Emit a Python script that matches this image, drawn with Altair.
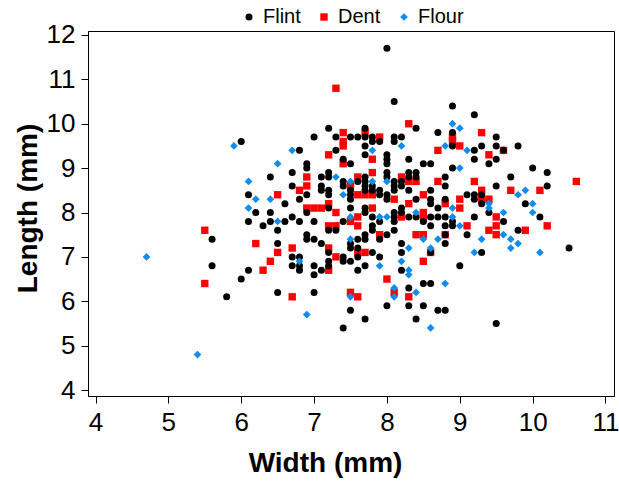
import altair as alt
import pandas as pd

# Flint (black circles)
flint_w = [6.0, 6.1, 6.2, 6.1, 6.3, 5.6, 5.6, 6.1, 6.0, 5.8,
           8.0, 8.1, 8.4, 8.7, 7.2, 7.0, 7.3, 7.5, 7.6, 7.7, 7.7, 7.8, 7.9, 7.8, 8.1, 8.2, 8.1, 7.3, 6.8, 7.7, 7.4, 7.7, 8.0, 8.3,
           8.9, 8.9, 6.9, 6.9, 7.5, 8.0, 8.0, 8.5, 8.6, 6.7, 7.2, 7.2, 7.1, 6.7, 7.1, 7.1, 7.2, 7.2, 6.8, 7.4, 7.4, 7.5, 7.5, 7.5,
           7.6, 7.7, 7.7, 7.7, 7.7, 7.8, 7.8, 7.9, 7.9, 8.0, 8.0, 8.0, 8.0, 8.1, 8.1, 8.1, 8.2, 8.2, 8.3, 8.3, 8.4, 8.4, 8.3, 8.6,
           8.6, 8.6, 8.8, 8.8, 8.9, 9.1, 6.7, 6.8, 7.0, 6.9, 7.2, 7.4, 7.5, 7.7, 7.7, 7.8, 7.8, 7.8, 7.9, 8.0, 8.1, 8.1, 8.1, 8.1,
           8.2, 8.2, 8.3, 8.4, 8.4, 8.5, 8.6, 8.7, 8.8, 8.7, 8.8, 8.9, 8.9, 8.6, 8.8, 6.7, 6.8, 6.9, 6.9, 7.0, 7.1, 7.4, 7.3, 7.2,
           7.5, 7.5, 7.6, 7.6, 7.7, 7.7, 7.8, 7.9, 7.9,
           6.4, 6.6, 6.4, 6.4, 6.6, 6.5, 6.5, 6.9,
           6.7, 6.8, 6.8, 7.0, 7.0, 7.1, 7.2, 7.2, 7.2, 7.4, 7.5, 7.6, 7.6, 7.7, 8.2, 8.2, 8.2, 8.3, 8.5, 8.6, 8.0, 8.3, 8.5,
           8.7, 8.4, 6.5, 7.0, 7.5, 7.7, 7.4,
           8.9, 9.2, 9.5, 9.3, 9.5, 9.8, 9.2, 9.2, 9.6, 9.5, 9.4, 10.0, 10.2, 9.7, 9.5, 10.2, 9.2, 9.3, 9.2, 9.3, 9.4, 9.9, 10.1,
           9.6, 9.2,
           8.8, 9.8, 8.8, 9.1, 9.3, 8.6, 10.5, 9.0, 8.8, 9.5]
flint_l = [9.6, 8.4, 8.0, 7.8, 7.7, 7.4, 6.8, 6.7, 6.5, 6.1,
           11.7, 10.5, 9.9, 9.8, 9.9, 9.7, 9.7, 9.7, 9.7, 9.9, 9.7, 9.7, 9.6, 9.6, 9.7, 9.7, 9.6, 9.4, 9.4, 9.5, 9.2, 9.3, 9.3, 9.2,
           9.8, 9.5, 9.1, 9.0, 9.1, 9.2, 9.1, 9.1, 9.1, 8.9, 8.9, 8.8, 8.8, 8.6, 8.6, 8.5, 8.5, 8.4, 8.3, 8.7, 8.6, 8.5, 8.4, 8.3,
           8.7, 8.8, 8.7, 8.6, 8.5, 8.6, 8.5, 8.5, 8.4, 8.9, 8.8, 8.4, 8.3, 8.7, 8.6, 8.5, 8.7, 8.6, 8.9, 8.8, 8.9, 8.8, 8.5, 8.5,
           8.3, 8.2, 8.8, 8.6, 9.0, 8.4, 7.9, 7.8, 7.8, 8.0, 8.1, 7.8, 8.1, 8.1, 8.0, 7.9, 7.7, 7.6, 7.8, 7.5, 8.0, 7.9, 7.8, 7.6,
           8.1, 8.0, 7.9, 7.9, 8.3, 7.8, 7.9, 7.9, 7.9, 8.1, 8.3, 7.8, 7.7, 7.7, 7.3, 7.0, 7.0, 7.5, 7.4, 7.4, 7.3, 7.0, 7.6, 7.6,
           7.3, 7.2, 7.4, 7.2, 7.5, 7.4, 7.1, 7.4, 7.0,
           8.8, 8.2, 8.0, 7.8, 7.8, 7.6, 7.3, 8.4,
           6.8, 6.8, 6.7, 6.8, 6.6, 6.7, 7.1, 6.9, 6.8, 6.9, 6.9, 7.0, 6.7, 6.8, 7.3, 7.1, 6.7, 6.3, 6.4, 6.4, 5.9, 5.9, 5.9,
           5.8, 5.6, 6.2, 6.2, 5.8, 5.6, 5.4,
           10.4, 10.2, 9.7, 9.5, 9.5, 9.5, 9.4, 9.2, 9.4, 9.2, 9.1, 9.0, 8.9, 8.8, 8.6, 8.6, 8.4, 8.4, 8.3, 8.2, 8.0, 8.2, 7.9,
           7.8, 7.9,
           7.7, 7.6, 7.5, 7.5, 7.1, 7.1, 7.2, 6.8, 5.8, 5.5]

# Dent (red squares)
dent_w = [5.5, 6.2, 6.4, 6.3, 5.5, 7.3, 8.3, 7.4, 7.7, 7.9, 7.4, 7.4, 7.2, 7.8, 8.7, 8.9, 8.9, 9.0, 7.4,
          6.9, 6.9, 6.8, 7.5, 7.6, 7.6, 7.7, 7.8, 7.8, 8.1, 8.2, 8.3, 8.4, 8.5, 8.7,
          6.9, 7.0, 7.1, 7.2, 7.3, 7.5, 7.6, 7.6, 7.8, 7.9, 8.2, 8.3, 8.5, 8.5, 9.0, 9.0, 9.1, 8.4, 8.5, 8.8, 8.6, 8.5,
          6.7, 7.2, 7.3, 7.2, 7.3, 7.6, 7.7, 6.5, 6.5, 7.2, 8.0, 8.1, 8.3, 6.7, 7.5, 7.6,
          9.3, 9.4, 9.6, 9.2, 10.6, 9.3, 9.7, 10.1, 9.3, 9.4, 8.8, 9.5, 9.5, 10.2, 9.9, 9.4, 9.5]
dent_l = [7.6, 7.3, 6.9, 6.7, 6.4, 10.8, 10.0, 9.8, 9.8, 9.7, 9.6, 9.5, 9.3, 9.2, 9.4, 9.7, 9.6, 9.5, 9.1,
          8.8, 8.6, 8.5, 8.6, 8.8, 8.4, 8.4, 8.4, 8.9, 8.3, 8.8, 8.7, 8.7, 8.4, 8.7,
          8.1, 8.1, 8.1, 8.2, 8.0, 7.8, 7.9, 7.7, 8.1, 7.5, 7.9, 8.2, 8.0, 7.9, 8.3, 8.1, 7.7, 7.5, 7.5, 7.5, 7.1, 6.9,
          7.2, 7.2, 7.0, 7.7, 7.7, 7.1, 7.1, 8.4, 7.1, 6.7, 6.5, 6.2, 6.1, 6.1, 6.2, 6.1,
          9.8, 9.3, 9.4, 8.7, 8.7, 8.5, 8.5, 8.5, 8.3, 8.3, 8.2, 7.9, 7.7, 7.7, 7.6, 7.6, 7.5]

# Flour (blue diamonds)
flour_w = [4.7, 5.4, 5.9, 6.1, 6.2, 6.1, 6.7, 7.8, 8.2, 6.5, 6.4, 6.5, 8.9, 9.0, 8.8, 9.1, 9.0,
           7.3, 7.4, 7.5, 7.8, 8.0, 7.5, 7.9, 8.0, 8.4, 8.9, 8.9, 9.0, 8.5, 8.7, 8.6, 8.3, 8.2,
           7.5, 6.8, 7.9, 8.3, 8.3, 8.1, 8.1, 8.4, 8.6, 6.9, 7.5,
           9.4, 9.4, 9.9, 9.8, 10.0, 10.0, 9.6, 9.6, 9.7, 9.8, 9.7, 9.3, 9.2, 10.1, 8.8]
flour_l = [7.0, 4.8, 9.5, 8.7, 8.3, 8.1, 9.4, 9.4, 9.5, 9.1, 8.3, 7.8, 10.0, 9.9, 9.5, 9.4, 9.0,
           8.8, 8.4, 8.7, 8.7, 8.7, 7.9, 7.9, 7.9, 8.0, 8.1, 7.9, 7.7, 7.4, 7.4, 7.2, 7.2, 6.9,
           7.4, 6.9, 6.8, 6.7, 6.6, 6.3, 6.1, 6.2, 5.4, 5.7, 6.1,
           8.2, 8.1, 8.5, 8.4, 8.2, 8.0, 8.0, 7.5, 7.4, 7.3, 7.2, 7.4, 7.1, 7.1, 6.4]

types = ["Flint", "Dent", "Flour"]
colors = ["#000000", "#FF0000", "#108CEF"]
shapes = ["circle", "square", "diamond"]
sizes = [49, 60, 78]

df = pd.concat([
    pd.DataFrame({"Width": dent_w, "Length": dent_l, "Type": "Dent"}),
    pd.DataFrame({"Width": flint_w, "Length": flint_l, "Type": "Flint"}),
    pd.DataFrame({"Width": flour_w, "Length": flour_l, "Type": "Flour"}),
], ignore_index=True)

font = "Liberation Sans"

chart = alt.Chart(df).mark_point(filled=True, opacity=1, strokeWidth=0).encode(
    x=alt.X("Width:Q", title="Width (mm)",
            scale=alt.Scale(domain=[3.897, 11.117], nice=False, zero=False),
            axis=alt.Axis(values=[4, 5, 6, 7, 8, 9, 10, 11], format="d",
                          titleX=237, titleY=67, titleAlign="center", titleBaseline="middle")),
    y=alt.Y("Length:Q", title="Length (mm)",
            scale=alt.Scale(domain=[3.865, 12.09], nice=False, zero=False),
            axis=alt.Axis(values=[4, 5, 6, 7, 8, 9, 10, 11, 12], format="d",
                          titleX=-60, titleY=177, titleAlign="center", titleBaseline="middle")),
    color=alt.Color("Type:N", scale=alt.Scale(domain=types, range=colors),
                    legend=alt.Legend(title=None, orient="none", direction="horizontal",
                                      legendX=151, legendY=-24, labelFontSize=20,
                                      labelFont=font, symbolSize=42, columnPadding=13,
                                      labelOffset=4, symbolStrokeWidth=0)),
    shape=alt.Shape("Type:N", scale=alt.Scale(domain=types, range=shapes)),
    size=alt.Size("Type:N", scale=alt.Scale(domain=types, range=sizes), legend=None),
).properties(
    width=526, height=365,
    autosize="none",
    padding={"left": 88, "top": 31, "right": 5, "bottom": 86},
).configure_view(
    stroke="#000000", strokeWidth=1
).configure_axis(
    grid=False, domainColor="#000000", tickColor="#000000", tickSize=7,
    labelFont=font, labelFontSize=26, labelColor="#000000",
    titleFont=font, titleFontSize=28, titleFontWeight="bold", titleColor="#000000",
    labelPadding=6,
)

chart.save("out.html", embed_options={"renderer": "svg", "actions": False})
